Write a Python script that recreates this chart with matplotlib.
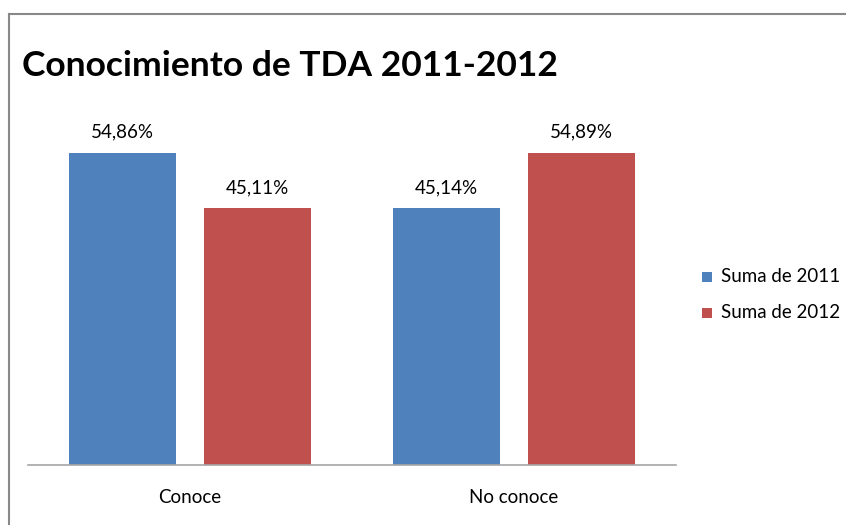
import matplotlib
matplotlib.use("Agg")
import matplotlib.pyplot as plt
from matplotlib.lines import Line2D
from matplotlib.patches import Rectangle

categories = ["Conoce", "No conoce"]
series_names = ["Suma de 2011", "Suma de 2012"]
values_2011 = [54.86, 45.14]
values_2012 = [45.11, 54.89]
colors = ["#4F81BD", "#C0504D"]

plt.rcParams['font.family'] = ['Lato', 'DejaVu Sans']

fig = plt.figure(figsize=(8.46, 5.25), dpi=100)
W, H = 846, 525

ax = fig.add_axes([28 / W, 60 / H, 648 / W, 341.2 / H])
x = list(range(len(categories)))
bw = 0.332
off = 0.208
b1 = ax.bar([i - off for i in x], values_2011, width=bw, color=colors[0], label=series_names[0])
b2 = ax.bar([i + off for i in x], values_2012, width=bw, color=colors[1], label=series_names[1])

def fmt(v):
    return f"{v:.2f}".replace(".", ",") + "%"

for bars, vals in ((b1, values_2011), (b2, values_2012)):
    for rect, v in zip(bars, vals):
        ax.annotate(fmt(v), (rect.get_x() + rect.get_width() / 2, v),
                    xytext=(0, 15), textcoords="offset points",
                    ha="center", va="center", fontsize=13.5)

ax.set_xlim(-0.5, 1.5)
ax.set_ylim(0, 60)
ax.set_xticks(x)
ax.set_xticklabels(categories, fontsize=13.5)
ax.tick_params(axis="x", length=0, pad=17)
ax.set_yticks([])
for s in ("top", "right", "left"):
    ax.spines[s].set_visible(False)
ax.spines["bottom"].set_color("#A6A6A6")
ax.spines["bottom"].set_linewidth(1.2)

fig.text(22 / W, 1 - 66 / H, "Conocimiento de TDA 2011-2012", fontsize=25.5,
         fontweight="bold", ha="left", va="center")

# legend
for k, (name, c) in enumerate(zip(series_names, colors)):
    yc = 1 - (277 + 36 * k) / H
    fig.patches.append(Rectangle((702 / W, yc - 5 / H), 10 / W, 10 / H,
                                 transform=fig.transFigure, facecolor=c, edgecolor="none"))
    fig.text(721 / W, yc, name, fontsize=13.5, ha="left", va="center")

# outer frame (top and left visible)
fig.lines.append(Line2D([9 / W, 1.0], [1 - 14 / H, 1 - 14 / H], transform=fig.transFigure,
                        color="#888888", linewidth=1.5))
fig.lines.append(Line2D([9 / W, 9 / W], [0, 1 - 14 / H], transform=fig.transFigure,
                        color="#888888", linewidth=1.5))

fig.savefig("out.png", dpi=100)
